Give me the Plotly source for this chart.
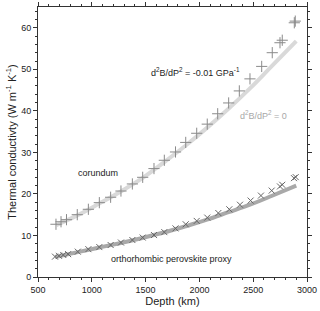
import plotly.graph_objects as go

# Corundum: calculated (d2B/dP2 = -0.01 GPa^-1) markers
corundum_depth = [667, 714, 765, 865, 968, 1070, 1175, 1271, 1377, 1473, 1578, 1674, 1778,
                  1873, 1975, 2073, 2170, 2272, 2371, 2470, 2579, 2677, 2749, 2770, 2882, 2891]
corundum_k = [12.7, 13.3, 13.8, 15.0, 16.3, 17.9, 19.2, 20.7, 22.4, 24.0, 26.1, 28.1, 30.1,
              32.4, 34.6, 36.8, 39.3, 41.9, 44.8, 47.7, 50.7, 54.0, 56.4, 57.0, 61.2, 61.6]

# Corundum: d2B/dP2 = 0 curve
corundum_line_depth = [670, 870, 1070, 1270, 1470, 1670, 1870, 2070, 2270, 2470, 2670, 2900]
corundum_line_k = [12.5, 14.9, 17.7, 20.6, 23.8, 27.6, 31.6, 35.9, 40.5, 45.4, 50.7, 56.8]

# Orthorhombic perovskite proxy markers
perov_depth = [658, 695, 735, 780, 870, 968, 1070, 1175, 1271, 1377, 1473, 1578, 1674, 1778,
               1873, 1975, 2073, 2176, 2278, 2377, 2476, 2572, 2672, 2749, 2770, 2879, 2895]
perov_k = [4.9, 5.1, 5.3, 5.5, 6.1, 6.7, 7.2, 7.7, 8.3, 8.9, 9.5, 10.1, 10.8, 11.7,
           12.7, 13.5, 14.3, 15.4, 16.3, 17.4, 18.4, 19.6, 20.8, 21.8, 22.2, 23.8, 24.05]

# Perovskite proxy: d2B/dP2 = 0 curve
perov_line_depth = [660, 870, 1070, 1270, 1470, 1670, 1870, 2070, 2270, 2470, 2670, 2900]
perov_line_k = [4.8, 6.0, 7.1, 8.2, 9.4, 10.7, 12.2, 13.8, 15.6, 17.4, 19.5, 22.0]

FONT = "Arial, Liberation Sans, sans-serif"

fig = go.Figure()
fig.add_trace(go.Scatter(x=corundum_line_depth, y=corundum_line_k, mode="lines",
                         line=dict(color="#d9d9d9", width=4, shape="spline"), showlegend=False))
fig.add_trace(go.Scatter(x=perov_line_depth, y=perov_line_k, mode="lines",
                         line=dict(color="#a9a9a9", width=4, shape="spline"), showlegend=False))
fig.add_trace(go.Scatter(x=corundum_depth, y=corundum_k, mode="markers",
                         marker=dict(symbol="cross-thin", size=8,
                                     line=dict(color="#8a8a8a", width=1)), showlegend=False))
fig.add_trace(go.Scatter(x=perov_depth, y=perov_k, mode="markers",
                         marker=dict(symbol="x-thin", size=6,
                                     line=dict(color="#666666", width=1)), showlegend=False))

L, R, T, B = 38, 13, 7, 34
W, H = 320, 311
pw, ph = W - L - R, H - T - B

annotations = [
    dict(px=98, py=173, text="corundum", color="#222222"),
    dict(px=171, py=259, text="orthorhombic perovskite proxy", color="#222222"),
    dict(px=195, py=72, text="d<sup>2</sup>B/dP<sup>2</sup> = -0.01 GPa<sup>-1</sup>", color="#222222"),
    dict(px=263, py=115, text="d<sup>2</sup>B/dP<sup>2</sup> = 0", color="#a8a8a8"),
]
for a in annotations:
    fig.add_annotation(x=(a["px"] - L) / pw, y=1 - (a["py"] - T) / ph,
                       xref="paper", yref="paper", text=a["text"], showarrow=False,
                       font=dict(family=FONT, size=9, color=a["color"]),
                       xanchor="center", yanchor="middle")

axis_common = dict(showline=True, linecolor="#333333", linewidth=1, mirror="ticks",
                   ticks="outside", ticklen=4, tickwidth=1, tickcolor="#333333",
                   showgrid=False, zeroline=False, automargin=False,
                   tickfont=dict(family=FONT, size=9, color="#222222"))

fig.update_xaxes(range=[500, 3000], tickvals=[500, 1000, 1500, 2000, 2500, 3000],
                 minor=dict(dtick=100, tick0=500, ticks="outside", ticklen=2, tickcolor="#333333"),
                 title=dict(text="Depth (km)", font=dict(family=FONT, size=11, color="#222222"),
                            standoff=3),
                 **axis_common)
fig.update_yaxes(range=[0, 65], tickvals=[0, 10, 20, 30, 40, 50, 60],
                 minor=dict(dtick=2, tick0=0, ticks="outside", ticklen=2, tickcolor="#333333"),
                 title=dict(text="Thermal conductivty (W m<sup>-1</sup> K<sup>-1</sup>)",
                            font=dict(family=FONT, size=11, color="#222222"), standoff=2),
                 **axis_common)

fig.update_layout(width=W, height=H, margin=dict(l=L, r=R, t=T, b=B, autoexpand=False),
                  plot_bgcolor="white", paper_bgcolor="white", showlegend=False)

fig.write_html("out.html", config={"displayModeBar": False, "staticPlot": True},
               post_script="document.body.style.margin='0';document.body.style.overflow='hidden';")
